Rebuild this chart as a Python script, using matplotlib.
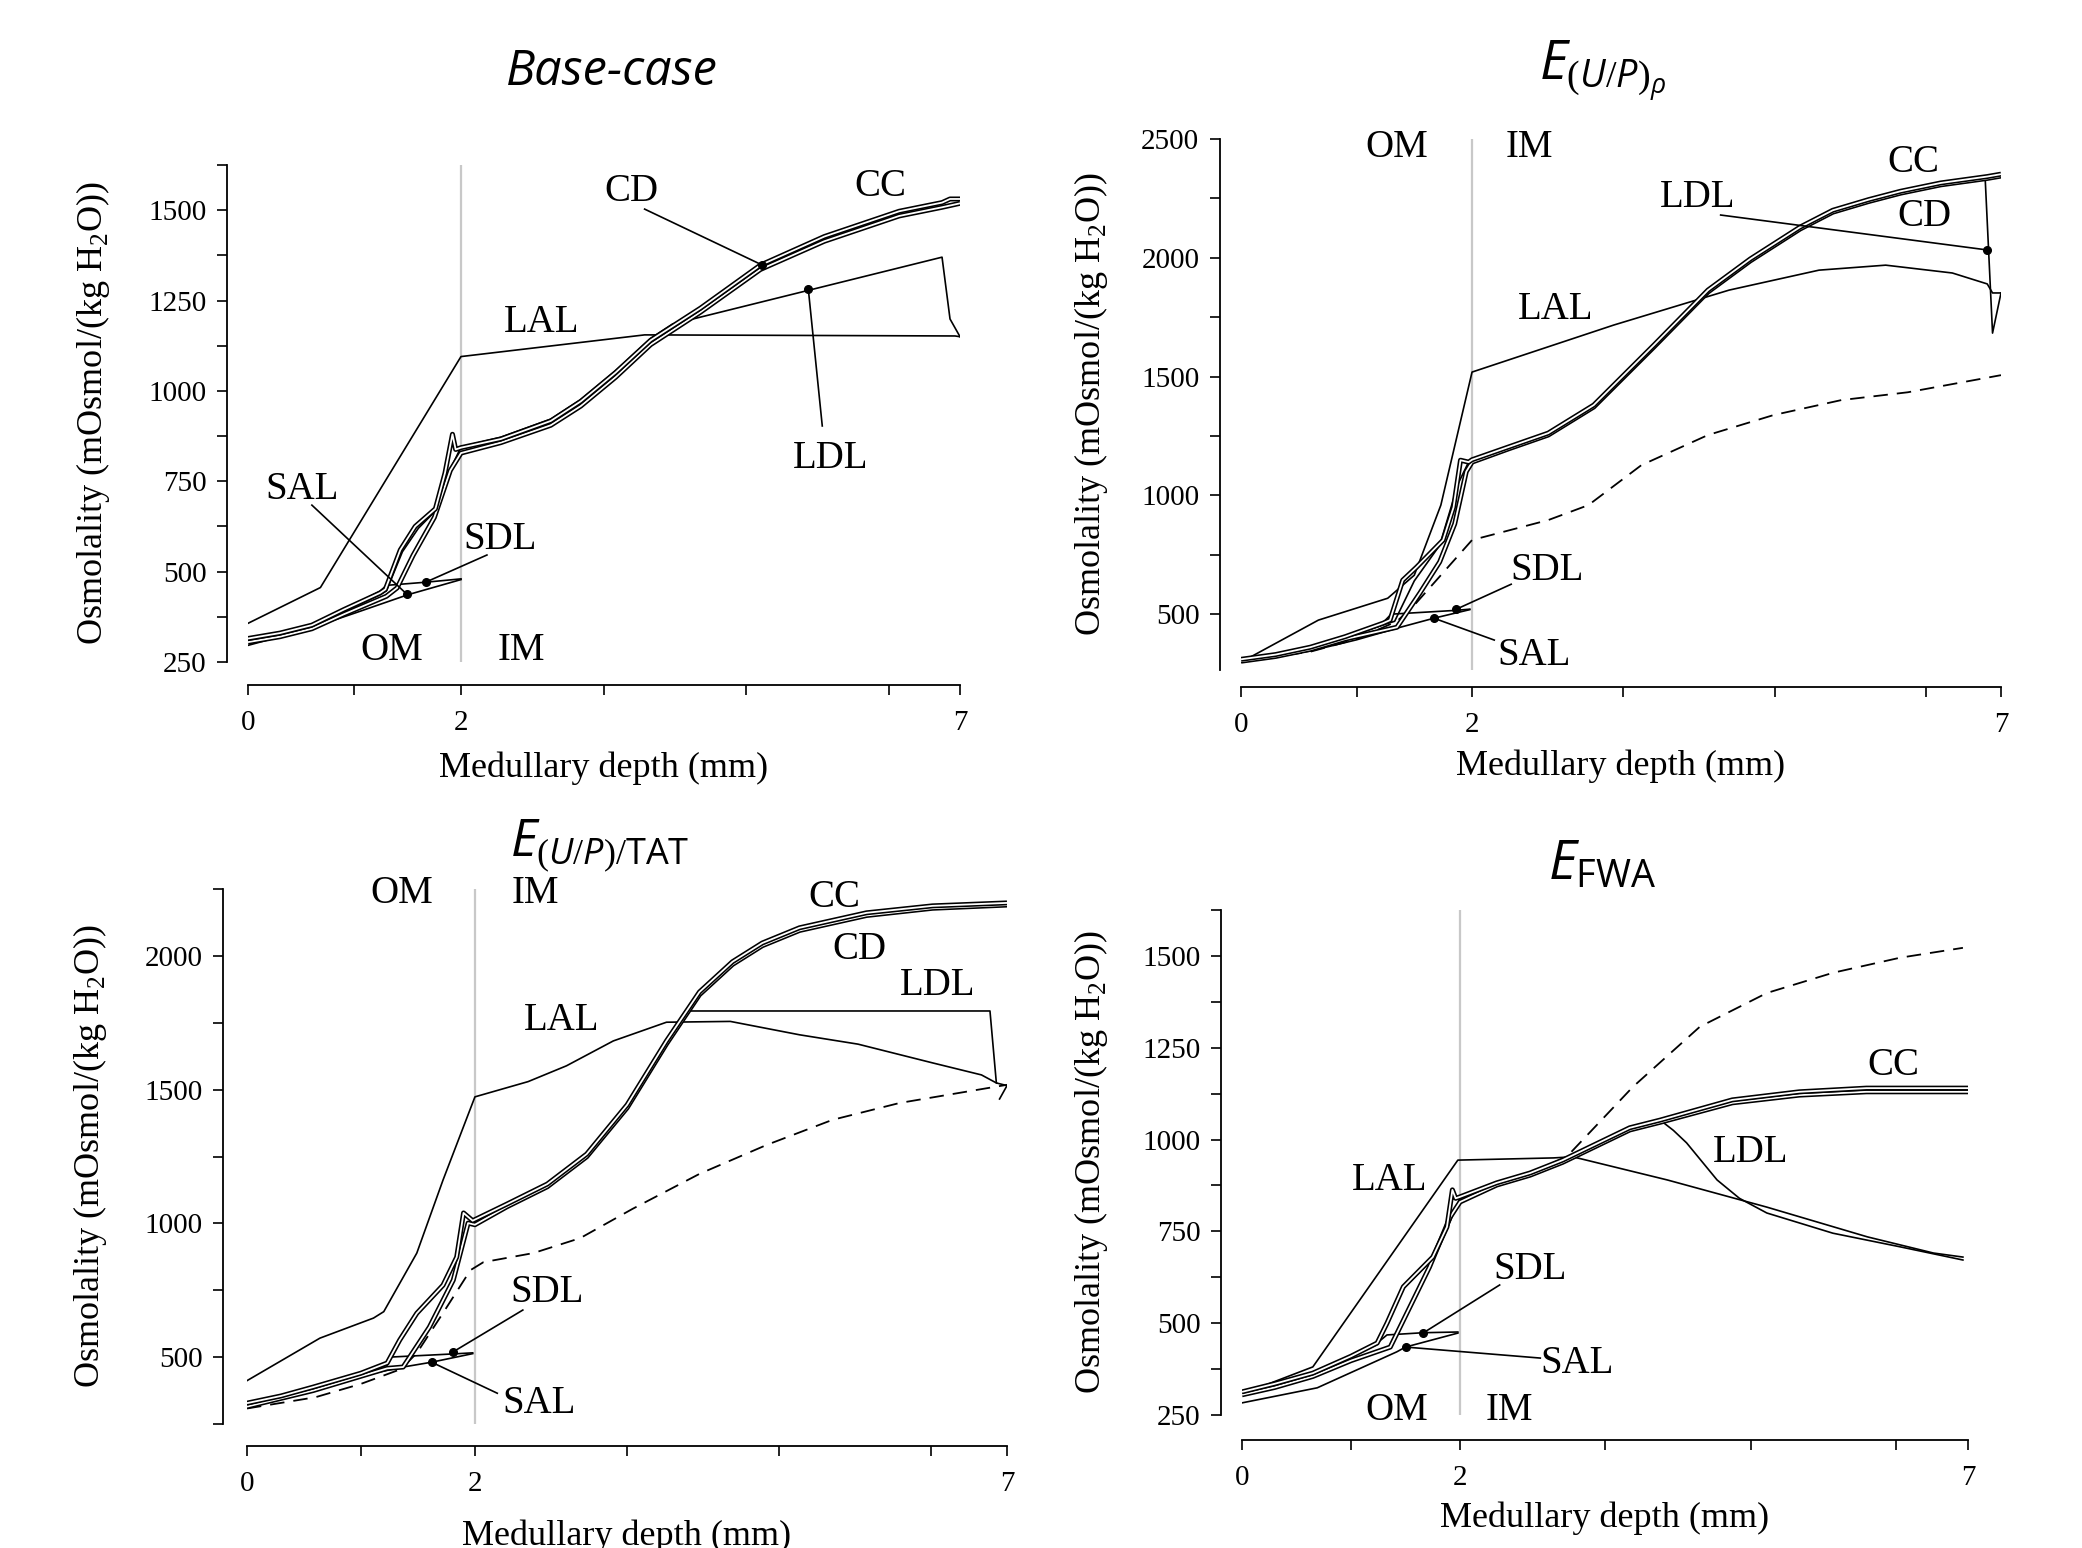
import numpy as np
import matplotlib
matplotlib.use('Agg')
import matplotlib.pyplot as plt
from matplotlib.ticker import FixedLocator, NullFormatter

plt.rcParams['font.family'] = ['Liberation Serif', 'DejaVu Serif']
plt.rcParams['mathtext.fontset'] = 'custom'
plt.rcParams['mathtext.rm'] = 'Liberation Serif'
plt.rcParams['mathtext.it'] = 'Open Sans:italic'
plt.rcParams['mathtext.sf'] = 'Open Sans'

# ---- panel 1: base case ----
p1_cc_x = [0, 0.3, 0.6, 0.9, 1.24, 1.29, 1.43, 1.57, 1.76, 1.85, 1.92, 1.95, 2.0, 2.4, 2.9, 3.2, 3.55, 3.9, 4.4, 5.0, 5.64, 6.39, 6.82, 6.9, 7.0]
p1_cc_y = [315, 330, 352, 395, 441, 451, 560, 625, 674, 773, 880, 838, 843, 867, 917, 971, 1051, 1140, 1229, 1348, 1427, 1497, 1521, 1531, 1531]
p1_cd_x = [0, 0.3, 0.6, 0.9, 1.3, 1.4, 1.55, 1.75, 1.9, 2.0, 2.4, 2.9, 3.2, 3.55, 3.9, 4.4, 5.0, 5.64, 6.39, 6.82, 7.0]
p1_cd_y = [305, 320, 342, 382, 432, 455, 545, 650, 780, 828, 857, 905, 958, 1038, 1128, 1218, 1336, 1414, 1484, 1508, 1519]
p1_ldl_x = [0, 0.6, 1.24, 1.3, 1.45, 1.6, 1.76, 1.88, 2.0, 2.4, 2.9, 3.2, 3.55, 3.9, 4.12, 6.82, 6.9, 7.0]
p1_ldl_y = [310, 347, 436, 447, 555, 620, 668, 770, 845, 872, 922, 976, 1056, 1145, 1185, 1370, 1199, 1150]
p1_lal_x = [7.0, 6.95, 3.84, 2.0, 0.68, 0]
p1_lal_y = [1150, 1152, 1155, 1095, 456, 357]
p1_sdl_x = [0, 0.6, 1.24, 1.3, 1.68, 2.0]
p1_sdl_y = [310, 350, 446, 462, 471, 480]
p1_sal_x = [2.0, 1.5, 1.0, 0.6, 0.3, 0]
p1_sal_y = [478, 436, 385, 345, 320, 296]

# ---- panel 2: E_(U/P)rho ----
p2_cc_x = [0, 0.3, 0.6, 0.9, 1.23, 1.29, 1.40, 1.52, 1.75, 1.84, 1.9, 1.97, 2.0, 2.34, 2.72, 3.15, 3.72, 4.23, 4.63, 5.1, 5.41, 5.75, 6.05, 6.43, 6.87, 7.0]
p2_cc_y = [310, 330, 361, 405, 462, 475, 643, 698, 812, 950, 1148, 1140, 1150, 1203, 1262, 1380, 1633, 1864, 1995, 2129, 2200, 2245, 2280, 2315, 2342, 2352]
p2_cd_x = [0, 0.3, 0.6, 0.9, 1.35, 1.55, 1.72, 1.85, 1.95, 2.0, 2.34, 2.72, 3.15, 3.72, 4.23, 4.63, 5.1, 5.41, 5.75, 6.05, 6.43, 6.87, 7.0]
p2_cd_y = [302, 322, 352, 395, 445, 590, 720, 880, 1100, 1140, 1195, 1254, 1372, 1625, 1856, 1987, 2121, 2192, 2237, 2272, 2307, 2334, 2344]
p2_ldl_x = [0, 0.6, 1.23, 1.33, 1.5, 1.72, 1.88, 1.97, 2.0, 2.34, 2.72, 3.15, 3.72, 4.23, 4.63, 5.1, 5.41, 5.75, 6.05, 6.43, 6.85, 6.92, 7.0]
p2_ldl_y = [306, 356, 455, 470, 640, 790, 1050, 1140, 1148, 1200, 1258, 1375, 1628, 1860, 1990, 2125, 2196, 2241, 2276, 2311, 2338, 1683, 1852]
p2_lal_x = [7.0, 6.92, 6.87, 6.54, 5.91, 5.28, 4.43, 3.34, 2.0, 1.73, 1.5, 1.27, 0.67, 0]
p2_lal_y = [1852, 1852, 1890, 1936, 1969, 1948, 1864, 1717, 1519, 959, 664, 567, 475, 298]
p2_sdl_x = [0, 0.6, 1.2, 1.3, 1.86, 1.98]
p2_sdl_y = [305, 350, 450, 500, 516, 521]
p2_sal_x = [1.98, 1.67, 1.38, 1.0, 0.6, 0]
p2_sal_y = [519, 483, 445, 392, 345, 298]
p2_base_x = [0, 0.6, 1.0, 1.35, 1.5, 1.73, 2.0, 2.72, 3.1, 3.6, 4.23, 4.85, 5.49, 6.12, 7.0]
p2_base_y = [302, 342, 395, 470, 538, 664, 812, 896, 959, 1127, 1254, 1338, 1401, 1434, 1506]

# ---- panel 3: E_(U/P)/TAT ----
p3_cc_x = [0, 0.3, 0.58, 1.0, 1.23, 1.34, 1.49, 1.72, 1.84, 1.9, 1.98, 2.3, 2.68, 3.05, 3.43, 3.8, 4.11, 4.42, 4.7, 5.05, 5.68, 6.3, 7.0]
p3_cc_y = [328, 355, 388, 440, 478, 564, 664, 769, 874, 1039, 1010, 1072, 1147, 1259, 1443, 1682, 1865, 1978, 2048, 2105, 2161, 2187, 2198]
p3_cd_x = [0, 0.58, 1.23, 1.37, 1.6, 1.81, 1.94, 2.0, 2.3, 2.68, 3.05, 3.43, 3.8, 4.11, 4.42, 4.7, 5.05, 5.68, 6.3, 7.0]
p3_cd_y = [315, 375, 458, 463, 612, 788, 1001, 995, 1062, 1137, 1249, 1432, 1671, 1855, 1968, 2038, 2095, 2151, 2178, 2190]
p3_ldl_x = [0, 0.58, 1.23, 1.34, 1.49, 1.72, 1.84, 1.9, 1.98, 2.3, 2.68, 3.05, 3.43, 3.8, 3.99, 6.84, 6.9, 7.0, 6.93]
p3_ldl_y = [322, 382, 470, 560, 660, 765, 870, 1030, 1015, 1065, 1140, 1252, 1436, 1675, 1794, 1794, 1525, 1515, 1465]
p3_lal_x = [6.9, 6.76, 6.3, 5.6, 5.05, 4.4, 3.8, 3.3, 2.86, 2.5, 2.0, 1.72, 1.49, 1.2, 1.11, 0.64, 0]
p3_lal_y = [1525, 1555, 1600, 1670, 1705, 1755, 1752, 1682, 1589, 1530, 1473, 1162, 889, 670, 646, 571, 412]
p3_sdl_x = [0, 0.58, 1.23, 1.25, 1.81, 1.98]
p3_sdl_y = [322, 385, 475, 500, 512, 516]
p3_sal_x = [1.98, 1.62, 1.37, 1.0, 0.73, 0.3, 0]
p3_sal_y = [513, 481, 463, 430, 410, 350, 315]
p3_base_x = [0, 0.6, 1.0, 1.35, 1.49, 1.72, 1.96, 2.08, 2.55, 2.99, 3.48, 4.11, 4.74, 5.36, 5.99, 7.0]
p3_base_y = [308, 350, 400, 455, 515, 665, 825, 855, 889, 945, 1054, 1185, 1293, 1387, 1450, 1518]

# ---- panel 4: E_FWA ----
p4_cc_x = [0, 0.3, 0.65, 1.0, 1.24, 1.33, 1.48, 1.75, 1.88, 1.93, 1.96, 2.0, 2.36, 2.69, 3.01, 3.67, 3.97, 4.68, 5.34, 6.0, 7.0]
p4_cc_y = [313, 335, 364, 410, 446, 500, 599, 680, 762, 863, 840, 844, 882, 909, 944, 1032, 1053, 1108, 1130, 1140, 1140]
p4_cd_x = [0, 0.3, 0.65, 1.0, 1.36, 1.72, 1.91, 2.0, 2.36, 2.69, 3.01, 3.67, 3.97, 4.68, 5.34, 6.0, 7.0]
p4_cd_y = [305, 325, 355, 398, 435, 653, 789, 830, 876, 903, 938, 1026, 1047, 1100, 1121, 1130, 1130]
p4_ldl_x = [0, 0.65, 1.24, 1.33, 1.48, 1.75, 1.88, 2.0, 2.36, 2.69, 3.01, 3.67, 3.97, 4.1, 4.23, 4.53, 4.75, 5.02, 5.67, 6.33, 6.95]
p4_ldl_y = [310, 360, 442, 495, 594, 675, 757, 840, 879, 906, 941, 1029, 1053, 1025, 991, 890, 840, 800, 745, 708, 672]
p4_lal_x = [6.95, 6.66, 6.01, 5.02, 4.04, 3.11, 2.92, 1.98, 0.65, 0]
p4_lal_y = [680, 691, 735, 816, 890, 953, 950, 944, 381, 307]
p4_sdl_x = [0, 0.65, 1.24, 1.33, 1.66, 1.98]
p4_sdl_y = [305, 355, 446, 468, 474, 476]
p4_sal_x = [1.98, 1.5, 1.42, 0.69, 0]
p4_sal_y = [473, 435, 422, 324, 283]
p4_base_x = [2.69, 3.05, 3.7, 4.36, 5.02, 5.67, 6.33, 6.95]
p4_base_y = [909, 953, 1143, 1307, 1399, 1454, 1495, 1522]

W, H = 2082, 1548
THIN = 1.2


def make_scale(r):
    def fwd(x):
        x = np.asarray(x, dtype=float)
        return np.where(x < 2, x * r, 2 * r + (x - 2))

    def inv(u):
        u = np.asarray(u, dtype=float)
        return np.where(u < 2 * r, u / r, u - 2 * r + 2)
    return fwd, inv


def double_line(ax, x, y):
    ax.plot(x, y, color='black', lw=3.6, solid_capstyle='butt', zorder=4)
    ax.plot(x, y, color='white', lw=1.3, solid_capstyle='butt', zorder=4)


def setup_axes(box, r, ylim, ymajor, ylabels, yminor, off_left, off_bottom,
               ylab_x, xlab_y):
    left, top, right, bottom = box
    ax = fig.add_axes([left / W, 1 - bottom / H, (right - left) / W, (bottom - top) / H])
    ax.set_xscale('function', functions=make_scale(r))
    ax.set_xlim(0, 7)
    ax.set_ylim(*ylim)
    for s in ('top', 'right'):
        ax.spines[s].set_visible(False)
    ax.spines['left'].set_position(('outward', off_left))
    ax.spines['bottom'].set_position(('outward', off_bottom))
    for s in ('left', 'bottom'):
        ax.spines[s].set_linewidth(1.3)
    ax.xaxis.set_major_locator(FixedLocator([0, 2, 7]))
    ax.xaxis.set_minor_locator(FixedLocator([1, 3.43, 4.86, 6.29]))
    ax.xaxis.set_minor_formatter(NullFormatter())
    ax.set_xticklabels(['0', '2', '7'])
    ax.yaxis.set_major_locator(FixedLocator(ymajor))
    ax.set_yticklabels(ylabels)
    ax.yaxis.set_minor_locator(FixedLocator(yminor))
    ax.yaxis.set_minor_formatter(NullFormatter())
    ax.tick_params(which='both', direction='out', length=7, width=1.2, labelsize=21)
    ax.tick_params(axis='y', pad=8)
    ax.tick_params(axis='x', pad=11)
    ax.set_ylabel('Osmolality (mOsmol/(kg H$_2$O))', fontsize=26, va='center')
    ax.yaxis.set_label_coords(ylab_x, 0.5)
    ax.set_xlabel('Medullary depth (mm)', fontsize=26, va='center')
    ax.xaxis.set_label_coords(0.5, xlab_y)
    ax.axvline(2, color='#c8c8c8', lw=1.6, zorder=1)
    return ax


def label(ax, s, x, y):
    ax.text(x, y, s, ha='center', va='center', fontsize=28, zorder=6)


def leader(ax, start, dot, with_dot=True):
    ax.plot([start[0], dot[0]], [start[1], dot[1]], color='black', lw=THIN, zorder=5)
    if with_dot:
        ax.plot([dot[0]], [dot[1]], 'o', color='black', ms=5.5, zorder=6)


def curves(ax, cc, cd, ldl, lal, sdl, sal, base=None):
    if base is not None:
        ax.plot(base[0], base[1], color='black', lw=1.3, ls=(0, (8, 5)), zorder=2)
    ax.plot(lal[0], lal[1], color='black', lw=THIN, zorder=3)
    ax.plot(sdl[0], sdl[1], color='black', lw=THIN, zorder=3)
    ax.plot(sal[0], sal[1], color='black', lw=THIN, zorder=3)
    ax.plot(ldl[0], ldl[1], color='black', lw=THIN, zorder=3)
    double_line(ax, cd[0], cd[1])
    double_line(ax, cc[0], cc[1])


fig = plt.figure(figsize=(W / 100, H / 100), dpi=100)

# panel 1
ax1 = setup_axes((248, 165, 960, 662), 1.067, (250, 1625),
                 [250, 500, 750, 1000, 1250, 1500],
                 ['250', '500', '750', '1000', '1250', '1500'],
                 [375, 625, 875, 1125, 1375, 1625], 15, 16.5, -0.218, -0.213)
curves(ax1, (p1_cc_x, p1_cc_y), (p1_cd_x, p1_cd_y), (p1_ldl_x, p1_ldl_y),
       (p1_lal_x, p1_lal_y), (p1_sdl_x, p1_sdl_y), (p1_sal_x, p1_sal_y))
label(ax1, 'CD', 3.71, 1553)
leader(ax1, (3.84, 1503), (5.02, 1348))
label(ax1, 'CC', 6.2, 1566)
label(ax1, 'LAL', 2.81, 1190)
label(ax1, 'LDL', 5.70, 814)
leader(ax1, (5.62, 903), (5.48, 1282))
label(ax1, 'SAL', 0.51, 728)
leader(ax1, (0.6, 684), (1.49, 438))
label(ax1, 'SDL', 2.39, 590)
leader(ax1, (2.26, 546), (1.67, 471))
label(ax1, 'OM', 1.35, 283)
label(ax1, 'IM', 2.61, 283)

# panel 2
ax2 = setup_axes((1241, 139, 2001, 670), 1.092, (265, 2500),
                 [500, 1000, 1500, 2000, 2500],
                 ['500', '1000', '1500', '2000', '2500'],
                 [750, 1250, 1750, 2250], 15, 12, -0.197, -0.181)
curves(ax2, (p2_cc_x, p2_cc_y), (p2_cd_x, p2_cd_y), (p2_ldl_x, p2_ldl_y),
       (p2_lal_x, p2_lal_y), (p2_sdl_x, p2_sdl_y), (p2_sal_x, p2_sal_y),
       (p2_base_x, p2_base_y))
label(ax2, 'OM', 1.35, 2465)
label(ax2, 'IM', 2.54, 2465)
label(ax2, 'CC', 6.17, 2400)
label(ax2, 'LDL', 4.13, 2254)
leader(ax2, (4.35, 2180), (6.87, 2033))
label(ax2, 'CD', 6.28, 2172)
label(ax2, 'LAL', 2.79, 1784)
label(ax2, 'SDL', 2.71, 684)
leader(ax2, (2.37, 626), (1.86, 520))
label(ax2, 'SAL', 2.59, 324)
leader(ax2, (2.21, 391), (1.67, 483))

# panel 3
ax3 = setup_axes((247, 889, 1007, 1424), 1.071, (250, 2250),
                 [500, 1000, 1500, 2000], ['500', '1000', '1500', '2000'],
                 [250, 750, 1250, 1750, 2250], 17, 16, -0.207, -0.209)
curves(ax3, (p3_cc_x, p3_cc_y), (p3_cd_x, p3_cd_y), (p3_ldl_x, p3_ldl_y),
       (p3_lal_x, p3_lal_y), (p3_sdl_x, p3_sdl_y), (p3_sal_x, p3_sal_y),
       (p3_base_x, p3_base_y))
label(ax3, 'OM', 1.36, 2232)
label(ax3, 'IM', 2.57, 2232)
label(ax3, 'CC', 5.38, 2217)
label(ax3, 'CD', 5.61, 2025)
label(ax3, 'LDL', 6.35, 1890)
label(ax3, 'LAL', 2.81, 1759)
label(ax3, 'SDL', 2.68, 743)
leader(ax3, (2.45, 676), (1.81, 520))
label(ax3, 'SAL', 2.6, 327)
leader(ax3, (2.21, 365), (1.62, 481))

# panel 4
ax4 = setup_axes((1242, 910, 1968, 1415), 1.073, (250, 1625),
                 [250, 500, 750, 1000, 1250, 1500],
                 ['250', '500', '750', '1000', '1250', '1500'],
                 [375, 625, 875, 1125, 1375, 1625], 15, 18, -0.208, -0.204)
curves(ax4, (p4_cc_x, p4_cc_y), (p4_cd_x, p4_cd_y), (p4_ldl_x, p4_ldl_y),
       (p4_lal_x, p4_lal_y), (p4_sdl_x, p4_sdl_y), (p4_sal_x, p4_sal_y),
       (p4_base_x, p4_base_y))
label(ax4, 'OM', 1.42, 262)
label(ax4, 'IM', 2.49, 262)
label(ax4, 'CC', 6.27, 1202)
label(ax4, 'LDL', 4.86, 965)
label(ax4, 'LAL', 1.35, 888)
label(ax4, 'SDL', 2.69, 645)
leader(ax4, (2.39, 604), (1.66, 473))
label(ax4, 'SAL', 3.15, 390)
leader(ax4, (2.79, 405), (1.5, 435))

# panel titles
fig.text(612 / W, 1 - 85 / H, 'Base-case', ha='center', va='baseline',
         fontsize=35, family='Open Sans', style='italic')
fig.text(1603 / W, 1 - 80 / H, r'$E_{\mathit{(U/P)}_{\rho}}$', ha='center',
         va='baseline', fontsize=39)
fig.text(600 / W, 1 - 857 / H, r'$E_{\mathit{(U/P)}/\mathsf{TAT}}$', ha='center',
         va='baseline', fontsize=37)
fig.text(1602 / W, 1 - 879 / H, r'$E_{\mathsf{FWA}}$', ha='center',
         va='baseline', fontsize=39)

fig.savefig('out.png', dpi=100)
